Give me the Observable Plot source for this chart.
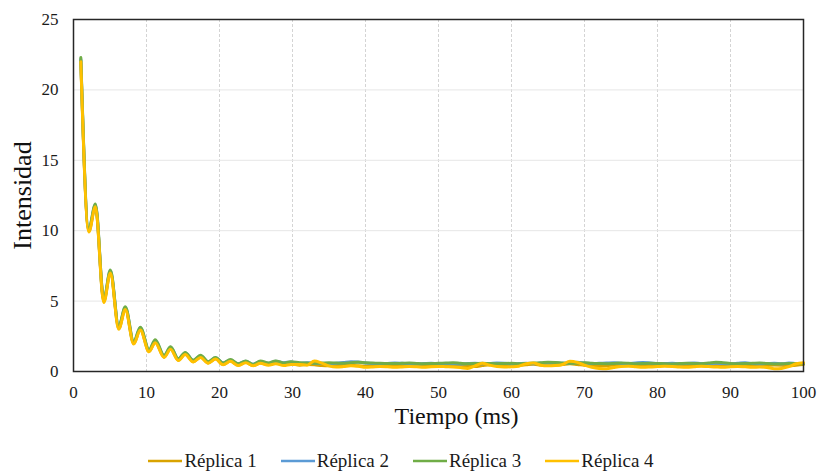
<!DOCTYPE html>
<html><head><meta charset="utf-8">
<script src="https://cdn.jsdelivr.net/npm/d3@7"></script>
<script src="https://cdn.jsdelivr.net/npm/@observablehq/plot@0.6"></script>
<style>
body{margin:0;background:#fff;font-family:"Liberation Serif","Times New Roman",serif;}
#wrap{position:relative;width:819px;height:473px;}
#legend{position:absolute;left:2px;top:452px;width:798px;display:flex;justify-content:center;align-items:center;gap:24px;font-size:19px;line-height:18px;color:#1a1a1a;}
#legend .it{display:flex;align-items:center;gap:2px;}
</style></head><body><div id="wrap"><div id="chart"></div><div id="legend"></div></div>
<script>
const tiempo = [1,2.1,3,4.15,5.05,6.2,7.1,8.25,9.15,10.35,11.2,12.4,13.3,14.35,15.3,16.4,17.4,18.45,19.45,20.5,21.5,22.55,23.6,24.6,25.6,26.7,27.7,28.8,29.8,
31,32,33,34,35,36,37,38,39,40,41,42,43,44,45,46,47,48,49,50,
51,52,53,54,55,56,57,58,59,60,61,62,63,64,65,66,67,68,69,70,
71,72,73,74,75,76,77,78,79,80,81,82,83,84,85,86,87,88,89,90,
91,92,93,94,95,96,97,98,99,100];
const series = ["Réplica 1","Réplica 2","Réplica 3","Réplica 4"];
const colors = ["#D9A300","#5B9BD5","#70AD47","#FFC000"];
const replica1 = [22.1,9.95,11.75,4.95,7.05,3.05,4.45,1.98,3.0,1.42,2.1,1.02,1.62,0.8,1.22,0.7,1.02,0.6,0.9,0.5,0.75,0.45,0.65,0.42,0.6,0.5,0.6,0.48,0.55,
0.45,0.5,0.48,0.42,0.4,0.45,0.5,0.46,0.4,0.38,
0.42,0.45,0.4,0.38,0.4,0.42,0.45,0.48,0.44,0.4,
0.42,0.46,0.45,0.4,0.36,0.42,0.48,0.5,0.45,0.42,
0.44,0.48,0.52,0.46,0.42,0.45,0.5,0.55,0.5,0.44,
0.4,0.38,0.42,0.45,0.48,0.44,0.4,0.42,0.46,0.44,
0.42,0.4,0.44,0.46,0.42,0.4,0.38,0.42,0.45,0.4,
0.42,0.45,0.4,0.38,0.42,0.46,0.44,0.4,0.45,0.5];
const replica2 = [22.2,10.05,11.85,5.05,7.15,3.15,4.55,2.05,3.1,1.5,2.2,1.1,1.72,0.88,1.32,0.78,1.12,0.68,0.98,0.6,0.82,0.55,0.72,0.52,0.7,0.58,0.72,0.62,0.68,
0.58,0.62,0.6,0.56,0.55,0.58,0.64,0.7,0.68,0.6,
0.56,0.55,0.57,0.6,0.58,0.55,0.54,0.56,0.58,0.55,
0.57,0.55,0.53,0.56,0.58,0.55,0.56,0.6,0.58,0.54,
0.56,0.58,0.55,0.6,0.58,0.62,0.58,0.6,0.65,0.6,
0.56,0.58,0.6,0.62,0.58,0.55,0.6,0.64,0.6,0.55,
0.56,0.58,0.55,0.57,0.6,0.56,0.55,0.58,0.56,0.54,
0.58,0.62,0.57,0.55,0.56,0.58,0.55,0.6,0.57,0.56];
const replica3 = [22.3,10.1,11.9,5.1,7.2,3.2,4.6,2.1,3.15,1.55,2.25,1.15,1.75,0.9,1.35,0.8,1.15,0.7,1.0,0.6,0.85,0.55,0.75,0.5,0.75,0.6,0.75,0.6,0.7,
0.62,0.6,0.58,0.6,0.62,0.6,0.58,0.62,0.66,0.62,
0.6,0.58,0.57,0.56,0.58,0.6,0.57,0.55,0.56,0.58,
0.6,0.62,0.58,0.55,0.56,0.58,0.56,0.55,0.57,0.58,
0.55,0.56,0.6,0.62,0.66,0.64,0.6,0.58,0.6,0.62,
0.58,0.56,0.55,0.57,0.6,0.58,0.55,0.56,0.58,0.57,
0.55,0.54,0.56,0.58,0.57,0.55,0.6,0.66,0.62,0.57,
0.55,0.56,0.58,0.6,0.56,0.54,0.55,0.57,0.56,0.55];
const replica4 = [22.0,9.9,11.7,4.9,7.0,3.0,4.4,1.95,2.95,1.4,2.05,1.0,1.58,0.78,1.2,0.68,1.0,0.58,0.88,0.48,0.72,0.42,0.62,0.4,0.58,0.45,0.55,0.42,0.5,
0.5,0.45,0.75,0.6,0.4,0.32,0.35,0.4,0.38,0.3,
0.32,0.35,0.33,0.3,0.32,0.35,0.33,0.3,0.34,0.36,
0.34,0.32,0.28,0.22,0.4,0.58,0.45,0.35,0.32,0.34,
0.38,0.55,0.6,0.45,0.4,0.42,0.5,0.72,0.65,0.45,
0.3,0.22,0.2,0.28,0.35,0.38,0.34,0.3,0.32,0.35,
0.38,0.36,0.32,0.3,0.34,0.38,0.35,0.32,0.3,0.34,
0.36,0.33,0.3,0.32,0.28,0.2,0.22,0.35,0.55,0.62];
const xTicks = [0,10,20,30,40,50,60,70,80,90,100];
const yTicks = [0,5,10,15,20,25];
const xLabel = "Tiempo (ms)";
const yLabel = "Intensidad";

const values = [replica1, replica2, replica3, replica4];
const data = series.flatMap((s, i) => values[i].map((v, j) => ({t: tiempo[j], v, s})));
const font = '"Liberation Serif","Times New Roman",serif';

const chart = Plot.plot({
  width: 819, height: 440,
  marginLeft: 73, marginRight: 16, marginTop: 19, marginBottom: 69,
  style: {fontFamily: font, fontSize: "17px", color: "#1a1a1a", background: "white", overflow: "visible"},
  x: {domain: [0, 100], label: null},
  y: {domain: [0, 25], label: null},
  color: {domain: series, range: colors},
  marks: [
    Plot.gridX(xTicks.slice(1, -1), {stroke: "#d4d4d4", strokeOpacity: 1, strokeDasharray: "3,2"}),
    Plot.gridY(yTicks.slice(1, -1), {stroke: "#e6e6e6", strokeOpacity: 1}),
    Plot.axisX(xTicks, {tickSize: 0, tickPadding: 14, label: null, fontSize: 17}),
    Plot.axisY(yTicks, {tickSize: 0, tickPadding: 15, label: null, fontSize: 17}),
    Plot.line(data, {x: "t", y: "v", stroke: "s", z: "s", strokeWidth: 3, curve: "monotone-x"}),
    Plot.frame({stroke: "#262626", strokeWidth: 1.5}),
    Plot.text([xLabel], {frameAnchor: "bottom", textAnchor: "middle", lineAnchor: "top", dy: 35, dx: 18, fontSize: 24, fill: "#111"}),
    Plot.text([yLabel], {frameAnchor: "left", textAnchor: "middle", rotate: -90, dx: -51, fontSize: 26, fill: "#111"})
  ]
});
document.getElementById("chart").appendChild(chart);

const legend = document.getElementById("legend");
series.forEach((s, i) => {
  const it = document.createElement("div");
  it.className = "it";
  it.innerHTML = `<svg width="34" height="6"><line x1="0" x2="34" y1="3" y2="3" stroke="${colors[i]}" stroke-width="2.6"/></svg><span>${s}</span>`;
  legend.appendChild(it);
});
</script>
</body></html>
